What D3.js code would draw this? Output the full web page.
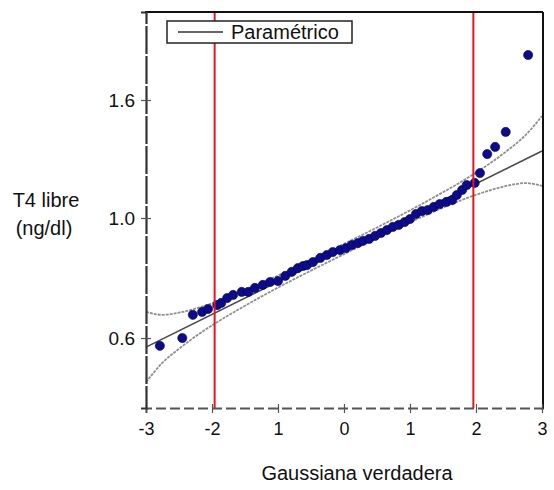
<!DOCTYPE html>
<html>
<head>
<meta charset="utf-8">
<script src="https://cdn.jsdelivr.net/npm/d3@7"></script>
<style>
body{margin:0;background:#fff;}
svg{display:block;font-family:"Liberation Sans",Arial,sans-serif;}
</style>
</head>
<body>
<div id="chart"></div>
<script>
// cuantiles teoricos (x) y valores observados T4 libre (y)
var quantiles=[-2.79,-2.45,-2.29,-2.15,-2.06,-1.92,-1.86,-1.77,-1.68,-1.55,-1.45,-1.35,-1.23,-1.12,-1.00,
	-0.89,-0.79,-0.70,-0.62,-0.56,-0.47,-0.36,-0.26,-0.17,-0.06,0.03,0.12,0.21,0.29,0.38,0.47,0.56,0.65,
	0.74,0.83,0.92,1.00,1.09,1.18,1.27,1.36,1.45,1.55,1.64,1.71,1.79,1.86,1.98,2.06,2.17,2.29,2.45,2.79];
var t4Values=[0.601,0.620,0.680,0.688,0.696,0.707,0.713,0.727,0.736,0.745,0.745,0.757,0.766,0.775,0.778,
	0.794,0.807,0.819,0.826,0.829,0.839,0.853,0.863,0.873,0.880,0.887,0.898,0.905,0.913,0.920,0.931,0.942,0.953,
	0.965,0.973,0.984,0.996,1.016,1.028,1.032,1.045,1.057,1.066,1.074,1.096,1.118,1.140,1.150,1.196,1.290,1.327,1.409,1.914];

// recta parametrica y banda de confianza
var fitQ=[-3,3];
var fitValues=[0.598,1.306];
var bandQ=[-3,-2.75,-2.5,-2.25,-2,-1.5,-1,-0.5,0,0.5,1,1.5,2,2.25,2.5,2.75,3];
var bandUpper=[0.688,0.680,0.686,0.697,0.712,0.750,0.795,0.846,0.902,0.963,1.031,1.108,1.198,1.252,1.315,1.391,1.501];
var bandLower=[0.520,0.562,0.594,0.624,0.652,0.705,0.758,0.811,0.866,0.924,0.983,1.042,1.097,1.120,1.139,1.149,1.136];

var refLines=[-1.96,1.96];
var xTicks=[-3,-2,-1,0,1,2,3];
var xTickLabels=["-3","-2","1","0","1","2","3"];
var yTickValues=[0.62,1.0,1.6];
var yTickLabels=["0.6","1.0","1.6"];

var width=554,height=490;
var svg=d3.select("#chart").append("svg").attr("width",width).attr("height",height);

var x=d3.scaleLinear().domain([-3,3]).range([146,542]);
var y=d3.scaleLog().domain([0.4692,2.2716]).range([408,12]);

// bandas
var bandLine=d3.line().curve(d3.curveMonotoneX)
	.x(function(d){return x(d[0]);})
	.y(function(d){return y(d[1]);});
[bandUpper,bandLower].forEach(function(vals){
	svg.append("path")
		.datum(d3.zip(bandQ,vals))
		.attr("d",bandLine)
		.attr("fill","none")
		.attr("stroke","#909090")
		.attr("stroke-width",1.8)
		.attr("stroke-dasharray","3,1");
});

svg.append("path")
	.datum(d3.zip(fitQ,fitValues))
	.attr("d",bandLine)
	.attr("fill","none")
	.attr("stroke","#4a4a4a")
	.attr("stroke-width",1.6);

// puntos
svg.append("g").selectAll("circle")
	.data(d3.zip(quantiles,t4Values))
	.enter().append("circle")
	.attr("cx",function(d){return x(d[0]);})
	.attr("cy",function(d){return y(d[1]);})
	.attr("r",4.6)
	.attr("fill","#0c0c8a")
	.attr("stroke","#06064f")
	.attr("stroke-width",0.6);

// lineas rojas
svg.append("g").selectAll("line")
	.data(refLines)
	.enter().append("line")
	.attr("x1",function(d){return x(d);})
	.attr("x2",function(d){return x(d);})
	.attr("y1",12).attr("y2",408)
	.attr("stroke","#e8141b")
	.attr("stroke-width",2);

// marco
svg.append("line").attr("x1",145).attr("x2",543).attr("y1",12).attr("y2",12)
	.attr("stroke","#111").attr("stroke-width",2);
svg.append("line").attr("x1",543).attr("x2",543).attr("y1",12).attr("y2",409)
	.attr("stroke","#111").attr("stroke-width",2);

// eje x
var xAxis=svg.append("g").attr("transform","translate(0,408)")
	.call(d3.axisBottom(x).tickValues(xTicks).tickSize(5).tickPadding(9)
		.tickFormat(function(d,i){return xTickLabels[i];}));
xAxis.select(".domain").attr("stroke","#555").attr("stroke-width",2).attr("stroke-dasharray","10,4");
xAxis.selectAll(".tick line").attr("stroke","#555").attr("y1",-4).attr("stroke-width",1.2);
xAxis.selectAll(".tick text").attr("font-size",18).attr("fill","#111").attr("font-family","Liberation Sans, Arial, sans-serif");

// eje y
var yAxis=svg.append("g").attr("transform","translate(146,0)")
	.call(d3.axisLeft(y).tickValues(yTickValues).tickSize(5).tickPadding(6)
		.tickFormat(function(d,i){return yTickLabels[i];}));
yAxis.select(".domain").attr("stroke","#333").attr("stroke-width",2.2).attr("stroke-dasharray","28,2");
yAxis.selectAll(".tick line").attr("stroke","#555").attr("x1",5).attr("stroke-width",1.2);
yAxis.selectAll(".tick text").attr("font-size",19).attr("fill","#111").attr("font-family","Liberation Sans, Arial, sans-serif");

// titulos
svg.append("text").attr("x",357).attr("y",480).attr("text-anchor","middle")
	.attr("font-size",20).attr("fill","#111").text("Gaussiana verdadera");
svg.append("text").attr("x",46).attr("y",207).attr("text-anchor","middle")
	.attr("font-size",20).attr("fill","#111").text("T4 libre");
svg.append("text").attr("x",44).attr("y",235).attr("text-anchor","middle")
	.attr("font-size",20).attr("fill","#111").text("(ng/dl)");

// leyenda
var legend=svg.append("g");
legend.append("rect").attr("x",167).attr("y",21).attr("width",185).attr("height",22)
	.attr("fill","#fff").attr("stroke","#222").attr("stroke-width",1.5);
legend.append("line").attr("x1",178).attr("x2",223).attr("y1",32).attr("y2",32)
	.attr("stroke","#333").attr("stroke-width",1.5);
legend.append("text").attr("x",231).attr("y",39).attr("font-size",20).attr("fill","#111").text("Paramétrico");
</script>
</body>
</html>
